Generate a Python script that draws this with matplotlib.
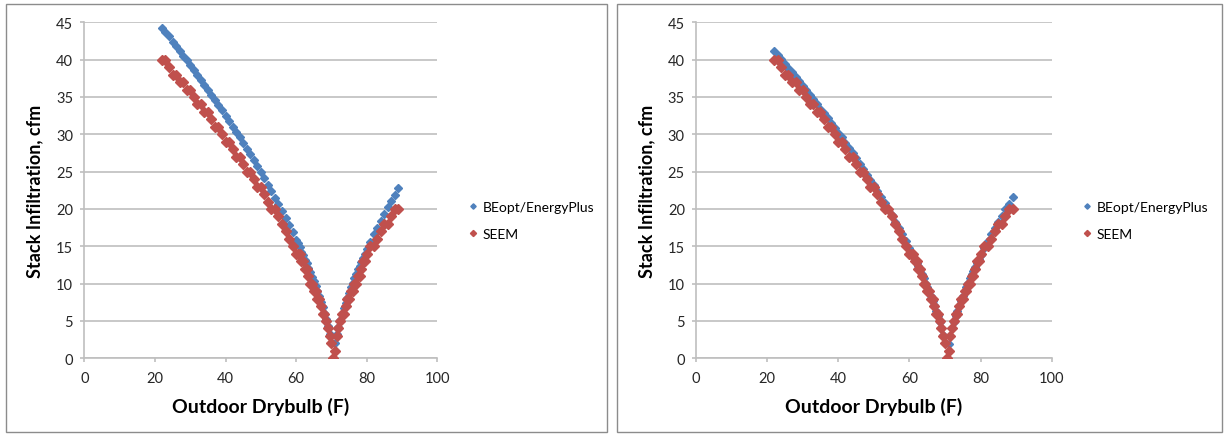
import numpy as np
import matplotlib.pyplot as plt
from matplotlib.patches import Rectangle

plt.rcParams['font.family'] = ['Lato', 'DejaVu Sans']

# Outdoor drybulb temperature (F)
temp = [22, 23, 24, 25, 26, 27, 28, 29, 30, 31, 32, 33, 34, 35, 36, 37, 38, 39,
        40, 41, 42, 43, 44, 45, 46, 47, 48, 49, 50, 51, 52, 53, 54, 55, 56, 57,
        58, 59, 60, 60.5, 61, 61.5, 62, 62.5, 63, 63.5, 64, 64.5, 65, 65.5, 66,
        66.5, 67, 67.5, 68, 68.5, 69, 69.5, 70, 70.5, 71, 71.5, 72, 72.5, 73,
        73.5, 74, 74.5, 75, 75.5, 76, 76.5, 77, 77.5, 78, 78.5, 79, 79.5, 80,
        81, 82, 83, 84, 85, 86, 87, 88, 89]

# BEopt/EnergyPlus, left chart
beopt_left = [44.3, 43.7, 43.1, 42.4, 41.8, 41.2, 40.5, 39.9, 39.3, 38.6, 37.9,
              37.3, 36.6, 35.9, 35.3, 34.6, 33.9, 33.2, 32.5, 31.8, 31.0, 30.3,
              29.6, 28.8, 28.0, 27.3, 26.5, 25.7, 24.9, 24.1, 23.2, 22.4, 21.5,
              20.6, 19.7, 18.8, 17.9, 16.9, 15.9, 15.4, 14.9, 14.3, 13.8, 13.2,
              12.7, 12.1, 11.5, 10.9, 10.3, 9.7, 9.0, 8.3, 7.6, 6.9, 6.1, 5.2,
              4.3, 3.3, 2.1, 0.0, 2.0, 3.2, 4.2, 5.1, 6.0, 6.8, 7.4, 8.1, 8.8,
              9.5, 10.1, 10.7, 11.3, 11.9, 12.4, 12.9, 13.5, 14.0, 14.6, 15.6,
              16.6, 17.5, 18.4, 19.3, 20.2, 21.1, 21.9, 22.8]

# BEopt/EnergyPlus, right chart
beopt_right = [41.2, 40.6, 40.1, 39.4, 38.9, 38.3, 37.7, 37.1, 36.5, 35.9, 35.2,
               34.7, 34.0, 33.4, 32.8, 32.2, 31.5, 30.9, 30.2, 29.6, 28.8, 28.2,
               27.5, 26.8, 26.0, 25.4, 24.6, 23.9, 23.2, 22.4, 21.6, 20.8, 20.0,
               19.2, 18.3, 17.5, 16.6, 15.7, 14.8, 14.3, 13.9, 13.3, 12.8, 12.3,
               11.8, 11.3, 10.7, 10.1, 9.6, 9.0, 8.4, 7.7, 7.1, 6.4, 5.7, 4.8,
               4.0, 3.1, 2.0, 0.0, 1.9, 3.0, 4.0, 4.8, 5.7, 6.4, 7.0, 7.7, 8.3,
               9.0, 9.6, 10.1, 10.7, 11.3, 11.7, 12.2, 12.8, 13.3, 13.8, 14.8,
               15.7, 16.6, 17.4, 18.3, 19.1, 20.0, 20.7, 21.6]

# SEEM (whole cfm)
seem = [40, 40, 39, 38, 38, 37, 37, 36, 36, 35, 34, 34, 33, 33, 32, 31, 31, 30,
        29, 29, 28, 27, 27, 26, 25, 25, 24, 23, 23, 22, 21, 20, 20, 19, 18, 17,
        16, 15, 14, 14, 14, 13, 13, 12, 12, 11, 10, 10, 9, 9, 8, 8, 7, 6, 6, 5,
        4, 3, 2, 0, 1, 3, 4, 5, 6, 6, 7, 8, 8, 9, 9, 10, 10, 11, 11, 12, 13, 13,
        14, 15, 15, 16, 17, 18, 18, 19, 20, 20]

blue = '#4F81BD'
red = '#C0504D'
text_col = '#262626'

fig = plt.figure(figsize=(12.25, 4.35), dpi=100)

# chart frames
for x0, x1 in [(6, 607), (617, 1222)]:
    fig.patches.append(Rectangle((x0 / 1225, 1 - 433 / 435), (x1 - x0) / 1225, 428 / 435,
                                 transform=fig.transFigure, fill=False,
                                 edgecolor='#8c8c8c', linewidth=1.0))

panels = [(84.3, 437.3, beopt_left), (696, 1051.7, beopt_right)]
for left, right, beopt in panels:
    ax = fig.add_axes([left / 1225, 1 - 359.3 / 435, (right - left) / 1225, (359.3 - 23.3) / 435])
    ax.plot(temp, beopt, linestyle='none', marker='D', markersize=4.2,
            color=blue, label='BEopt/EnergyPlus', zorder=3)
    ax.plot(temp, seem, linestyle='none', marker='D', markersize=4.8,
            color=red, label='SEEM', zorder=4)
    ax.set_xlim(0, 100)
    ax.set_ylim(0, 45)
    ax.set_xticks(range(0, 101, 20))
    ax.set_yticks(range(0, 46, 5))
    ax.grid(axis='y', color='#bfbfbf', linewidth=1.2)
    ax.set_axisbelow(True)
    for s in ['top', 'right']:
        ax.spines[s].set_visible(False)
    for s in ['left', 'bottom']:
        ax.spines[s].set_color('#bfbfbf')
        ax.spines[s].set_linewidth(1.2)
    ax.tick_params(axis='both', direction='out', length=3, width=1.2, color='#bfbfbf',
                   labelsize=10.5, labelcolor=text_col)
    ax.tick_params(axis='y', pad=5)
    ax.tick_params(axis='x', pad=6)
    ax.set_xlabel('Outdoor Drybulb (F)', fontsize=14, fontweight='bold',
                  color='black', labelpad=9)
    ax.set_ylabel('Stack Infiltration, cfm', fontsize=13, fontweight='bold',
                  color='black', labelpad=9)
    ax.legend(loc='center left', bbox_to_anchor=(1.055, 0.41), frameon=False,
              fontsize=10, handlelength=0.5, handletextpad=0.45, labelspacing=1.1,
              markerscale=0.65)

plt.savefig('out.png', dpi=100)
